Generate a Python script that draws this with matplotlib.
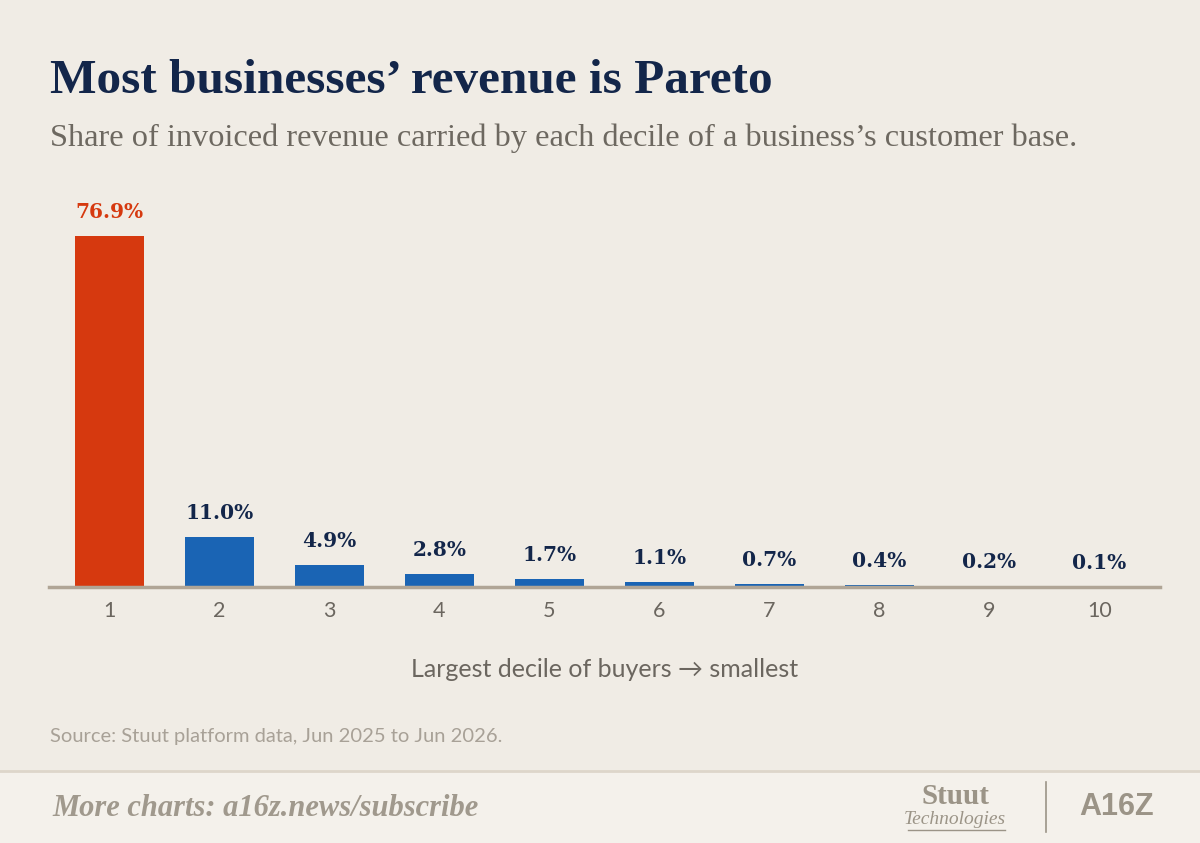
import matplotlib
matplotlib.use("Agg")
import matplotlib.pyplot as plt
from matplotlib.lines import Line2D
from matplotlib.patches import Rectangle

# Data
deciles = ["1", "2", "3", "4", "5", "6", "7", "8", "9", "10"]
shares = [76.9, 11.0, 4.9, 2.8, 1.7, 1.1, 0.7, 0.4, 0.2, 0.1]
labels = ["76.9%", "11.0%", "4.9%", "2.8%", "1.7%", "1.1%", "0.7%", "0.4%", "0.2%", "0.1%"]

BG = "#f0ece5"
NAVY = "#13264a"
RED = "#d6390f"
BLUE = "#1a64b4"
GREY = "#6b665f"
LOGO = "#9b9487"

fig = plt.figure(figsize=(12, 8.43), dpi=100, facecolor=BG)

# footer band
fig.patches.append(Rectangle((0, 0), 1, 72 / 843, transform=fig.transFigure,
                             facecolor="#f4f1eb", edgecolor="none", zorder=0))
fig.lines.append(Line2D([0, 1], [72 / 843, 72 / 843], transform=fig.transFigure,
                        color="#ddd6ca", lw=2))

ax = fig.add_axes([49 / 1200, 1 - 587 / 843, 1111 / 1200, 351 / 843])
ax.set_facecolor(BG)
x = list(range(len(deciles)))
colors = [RED] + [BLUE] * (len(deciles) - 1)
ax.bar(x, shares, width=0.62, color=colors, zorder=2)
ax.set_xlim(-0.55, len(deciles) - 0.45)
ax.set_ylim(0, shares[0])

for i, (v, lab) in enumerate(zip(shares, labels)):
    ax.annotate(lab, (i, v), xytext=(0, 10), textcoords="offset points",
                ha="center", va="bottom", fontsize=14.5, fontweight="bold",
                family="DejaVu Serif", color=RED if i == 0 else NAVY,
                annotation_clip=False)

for s in ["top", "right", "left"]:
    ax.spines[s].set_visible(False)
ax.spines["bottom"].set_color("#b0a596")
ax.spines["bottom"].set_linewidth(2.5)
ax.set_yticks([])
ax.set_xticks(x)
ax.set_xticklabels(deciles, fontsize=15.5, color=GREY, family="Lato")
ax.tick_params(axis="x", length=0, pad=10)
ax.set_xlabel("Largest decile of buyers \u2192 smallest", fontsize=18, color=GREY,
              family=["Lato", "DejaVu Sans"], labelpad=27)

fig.text(50 / 1200, 1 - 93 / 843, "Most businesses\u2019 revenue is Pareto",
         fontsize=35.5, fontweight="bold", family="Liberation Serif", color=NAVY)
fig.text(50 / 1200, 1 - 146 / 843,
         "Share of invoiced revenue carried by each decile of a business\u2019s customer base.",
         fontsize=23.3, family="Liberation Serif", color="#6d6860")
fig.text(50 / 1200, 1 - 742 / 843, "Source: Stuut platform data, Jun 2025 to Jun 2026.",
         fontsize=14.5, family="Lato", color="#a8a197")

# footer
fig.text(52 / 1200, 1 - 808 / 843, "More charts: a16z.news/subscribe", fontsize=22,
         style="italic", fontweight="bold", family="Liberation Serif", color="#a0998d",
         va="center")
fig.text(955 / 1200, 1 - 797 / 843, "Stuut", fontsize=21, fontweight="bold",
         family="Liberation Serif", color=LOGO, ha="center", va="center")
fig.text(955 / 1200, 1 - 820 / 843, "Technologies", fontsize=14, style="italic",
         family="Liberation Serif", color=LOGO, ha="center", va="center")
fig.lines.append(Line2D([908 / 1200, 1005 / 1200], [1 - 830 / 843, 1 - 830 / 843],
                        transform=fig.transFigure, color=LOGO, lw=1))
fig.lines.append(Line2D([1046 / 1200, 1046 / 1200], [1 - 832 / 843, 1 - 782 / 843],
                        transform=fig.transFigure, color=LOGO, lw=1.2))
fig.text(1117 / 1200, 1 - 807 / 843, "A16Z", fontsize=22, fontweight="bold",
         family="Liberation Sans", color=LOGO, ha="center", va="center")

fig.savefig("out.png", dpi=100, facecolor=BG)
